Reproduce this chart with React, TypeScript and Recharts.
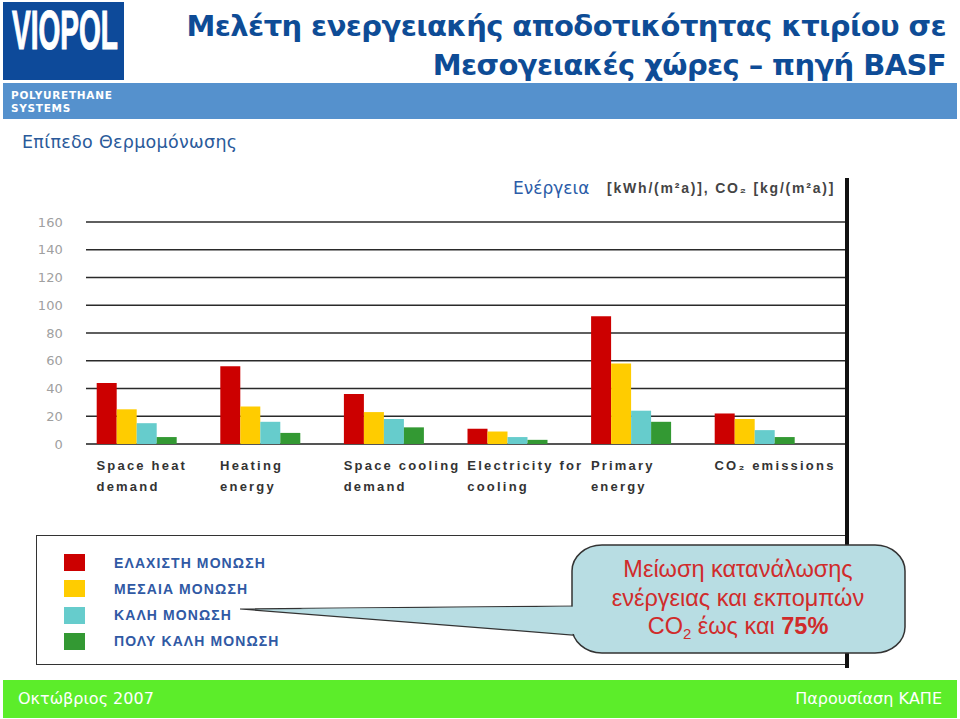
import { BarChart, Bar, XAxis, YAxis, CartesianGrid, Legend } from 'recharts';

// Energy [kWh/(m2a)] and CO2 [kg/(m2a)] by insulation level (BASF study)
const categories = [
  'Space heat demand',
  'Heating energy',
  'Space cooling demand',
  'Electricity for cooling',
  'Primary energy',
  'CO2 emissions',
];
const tickLines = [
  ['Space heat', 'demand'],
  ['Heating', 'energy'],
  ['Space cooling', 'demand'],
  ['Electricity for', 'cooling'],
  ['Primary', 'energy'],
  ['CO₂ emissions', ''],
];
const minimalInsulation = [44, 56, 36, 11, 92, 22];
const mediumInsulation = [25, 27, 23, 9, 58, 18];
const goodInsulation = [15, 16, 18, 5, 24, 10];
const veryGoodInsulation = [5, 8, 12, 3, 16, 5];
const yTicks = [0, 20, 40, 60, 80, 100, 120, 140, 160];

const seriesKeys = ['minimal', 'medium', 'good', 'veryGood'];
const seriesNames = ['ΕΛΑΧΙΣΤΗ ΜΟΝΩΣΗ', 'ΜΕΣΑΙΑ ΜΟΝΩΣΗ', 'ΚΑΛΗ ΜΟΝΩΣΗ', 'ΠΟΛΥ ΚΑΛΗ ΜΟΝΩΣΗ'];
const seriesColors = ['#cc0000', '#ffcc00', '#66cccc', '#339933'];

const data = categories.map((name, i) => ({
  name,
  minimal: minimalInsulation[i],
  medium: mediumInsulation[i],
  good: goodInsulation[i],
  veryGood: veryGoodInsulation[i],
}));

function CategoryTick({ x, y, payload }: any) {
  const lines = tickLines[categories.indexOf(payload.value)] || ['', ''];
  const style = {
    fontFamily: '"Liberation Sans", Arial, sans-serif',
    fontSize: 13,
    fontWeight: 700,
    letterSpacing: 2.2,
    fill: '#333',
  };
  return (
    <g>
      <text x={x - 40} y={y + 26} textAnchor="start" style={style}>{lines[0]}</text>
      <text x={x - 40} y={y + 47} textAnchor="start" style={style}>{lines[1]}</text>
    </g>
  );
}

function GridLine(props: any) {
  // grid starts a little right of the plot edge, like the original picture
  const isBase = Math.abs(props.y1 - 444) < 1;
  return (
    <line
      key={`g-${props.index}`}
      x1={props.x1 + 11.3}
      y1={props.y1}
      x2={props.x2}
      y2={props.y2}
      stroke={isBase ? '#555' : '#2a2a2a'}
      strokeWidth={isBase ? 2 : 1.5}
    />
  );
}

function LegendBox({ payload }: any) {
  const items = [...(payload || [])].sort(
    (a: any, b: any) => seriesNames.indexOf(a.value) - seriesNames.indexOf(b.value)
  );
  return (
    <div style={{ position: 'relative', width: '100%', height: '100%' }}>
      {items.map((entry: any, i: number) => (
        <div
          key={entry.value}
          style={{ position: 'absolute', left: 27, top: 18 + i * 26.3, display: 'flex', alignItems: 'center' }}
        >
          <div style={{ width: 21, height: 17, background: entry.color }} />
          <span
            style={{
              marginLeft: 29,
              fontFamily: '"Liberation Sans", Arial, sans-serif',
              fontSize: 14,
              fontWeight: 700,
              letterSpacing: 1.1,
              color: '#3059a4',
            }}
          >
            {entry.value}
          </span>
        </div>
      ))}
    </div>
  );
}

export default function App() {
  return (
    <div style={{ position: 'absolute', left: 0, top: 0, width: 960, height: 719, background: '#fff', overflow: 'hidden' }}>
      {/* Logo */}
      <div style={{ position: 'absolute', left: 3, top: 2, width: 121, height: 78, background: '#0d4a9a' }}>
        <div
          style={{
            position: 'absolute',
            left: 9,
            top: -4,
            fontFamily: '"Liberation Sans", Arial, sans-serif',
            fontWeight: 700,
            fontSize: 55,
            color: '#fff',
            transform: 'scaleX(0.51)',
            transformOrigin: 'left top',
            whiteSpace: 'nowrap',
            WebkitTextStroke: '1.2px #fff',
          }}
        >
          VIOPOL
        </div>
      </div>
      <div style={{ position: 'absolute', left: 3, top: 83, width: 954, height: 36, background: '#5591cd' }} />
      <div
        style={{
          position: 'absolute',
          left: 11,
          top: 89,
          fontFamily: '"DejaVu Sans", sans-serif',
          fontWeight: 700,
          fontSize: 10.5,
          lineHeight: '13px',
          letterSpacing: 0.7,
          color: '#fff',
        }}
      >
        POLYURETHANE
        <br />
        SYSTEMS
      </div>

      {/* Title */}
      <div
        style={{
          position: 'absolute',
          right: 14,
          top: 7,
          textAlign: 'right',
          fontFamily: '"DejaVu Sans", sans-serif',
          fontWeight: 700,
          fontSize: 29,
          lineHeight: '39px',
          letterSpacing: -0.6,
          color: '#0e4c96',
          whiteSpace: 'nowrap',
        }}
      >
        Μελέτη ενεργειακής αποδοτικότητας κτιρίου σε
        <br />
        Μεσογειακές χώρες – πηγή BASF
      </div>

      <div
        style={{
          position: 'absolute',
          left: 22,
          top: 132,
          fontFamily: '"DejaVu Sans", sans-serif',
          fontSize: 17.5,
          letterSpacing: 0.3,
          color: '#2a5a9a',
        }}
      >
        Επίπεδο Θερμομόνωσης
      </div>

      {/* Axis caption */}
      <div
        style={{
          position: 'absolute',
          left: 513,
          top: 178,
          fontFamily: '"DejaVu Sans", sans-serif',
          fontSize: 17,
          color: '#2b5ca8',
        }}
      >
        Ενέργεια
      </div>
      <div
        style={{
          position: 'absolute',
          left: 607,
          top: 180,
          fontFamily: '"Liberation Sans", Arial, sans-serif',
          fontSize: 14,
          fontWeight: 700,
          letterSpacing: 1.8,
          color: '#444',
          whiteSpace: 'nowrap',
        }}
      >
        [kWh/(m²a)], CO₂ [kg/(m²a)]
      </div>

      {/* Chart */}
      <div style={{ position: 'absolute', left: 0, top: 0 }}>
        <BarChart
          width={960}
          height={719}
          data={data}
          margin={{ top: 222, right: 115, bottom: 215, left: 14.7 }}
          barGap={0}
          barSize={20}
        >
          <CartesianGrid vertical={false} horizontal={GridLine} />
          <XAxis
            dataKey="name"
            height={60}
            axisLine={false}
            tickLine={false}
            tickSize={0}
            tickMargin={0}
            interval={0}
            padding={{ left: 0, right: 28.7 }}
            tick={<CategoryTick />}
          />
          <YAxis
            width={60}
            domain={[0, 160]}
            ticks={yTicks}
            axisLine={false}
            tickLine={false}
            tickSize={0}
            tickMargin={12}
            tick={{ fill: '#a0a0a0', fontSize: 13, fontFamily: '"DejaVu Sans", sans-serif' }}
          />
          <Legend
            layout="horizontal"
            verticalAlign="middle"
            align="center"
            content={<LegendBox />}
            wrapperStyle={{
              left: 36,
              top: 535,
              width: 811,
              height: 130,
              border: '1.5px solid #333',
              background: '#fff',
              boxSizing: 'border-box',
            }}
          />
          {seriesKeys.map((key, i) => (
            <Bar key={key} dataKey={key} name={seriesNames[i]} fill={seriesColors[i]} isAnimationActive={false} />
          ))}
        </BarChart>
      </div>

      {/* Right frame line */}
      <div style={{ position: 'absolute', left: 845, top: 178, width: 4, height: 490, background: '#111' }} />

      {/* Callout */}
      <svg style={{ position: 'absolute', left: 0, top: 0 }} width={960} height={719}>
        <polygon points="240,609 585,606 585,636" fill="#b8dde3" stroke="#333" strokeWidth={1.2} />
        <rect x={572} y={545} width={333} height={108} rx={30} ry={26} fill="#b8dde3" stroke="#333" strokeWidth={1.5} />
        <polygon points="300,608.8 590,606.6 590,635.4" fill="#b8dde3" />
        <g
          style={{ fontFamily: '"Liberation Sans", Arial, sans-serif', fontSize: 23.5 }}
          fill="#d02b2b"
          textAnchor="middle"
        >
          <text x={738} y={577}>Μείωση κατανάλωσης</text>
          <text x={738} y={606}>ενέργειας και εκπομπών</text>
          <text x={738} y={634}>
            CO<tspan fontSize={15} dy={5}>2</tspan>
            <tspan dy={-5}> έως και </tspan>
            <tspan fontWeight={700}>75%</tspan>
          </text>
        </g>
      </svg>

      {/* Footer */}
      <div style={{ position: 'absolute', left: 3, top: 680, width: 954, height: 38, background: '#5ced2a' }} />
      <div
        style={{
          position: 'absolute',
          left: 18,
          top: 689,
          fontFamily: '"DejaVu Sans", sans-serif',
          fontSize: 16,
          color: '#fff',
        }}
      >
        Οκτώβριος 2007
      </div>
      <div
        style={{
          position: 'absolute',
          right: 18,
          top: 689,
          fontFamily: '"DejaVu Sans", sans-serif',
          fontSize: 16,
          color: '#fff',
        }}
      >
        Παρουσίαση ΚΑΠΕ
      </div>
    </div>
  );
}
